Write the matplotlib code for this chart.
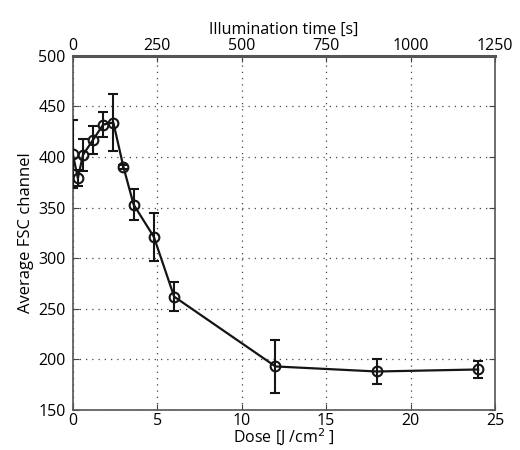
import matplotlib
matplotlib.use("Agg")
import matplotlib.pyplot as plt

dose = [0, 0.3, 0.6, 1.2, 1.8, 2.4, 3.0, 3.6, 4.8, 6.0, 12, 18, 24]
fsc = [403, 379, 402, 417, 432, 434, 390, 353, 321, 262, 193, 188, 190]
err = [34, 8, 16, 14, 12, 28, 2, 15, 24, 14, 26, 12, 8]

x_ticks = [0, 5, 10, 15, 20, 25]
y_ticks = [150, 200, 250, 300, 350, 400, 450, 500]
top_ticks = [0, 250, 500, 750, 1000, 1250]

plt.rcParams['font.family'] = ['Open Sans', 'DejaVu Sans']
fs = 11.5
lfs = 11.5

fig = plt.figure(figsize=(5.2, 4.5), dpi=100)
ax = fig.add_axes([0.140, 0.089, 0.812, 0.787])

ax.errorbar(dose, fsc, yerr=err, color='#151515', lw=1.6, marker='o',
            ms=7, mfc='none', mec='#151515', mew=1.5, capsize=3.5,
            elinewidth=1.5, capthick=1.5, zorder=3)

ax.set_xlim(0, 25)
ax.set_ylim(150, 500)
ax.set_xticks(x_ticks)
ax.set_yticks(y_ticks)
ax.grid(True, linestyle=(0, (1, 4)), color='#444444', lw=0.9)
ax.tick_params(direction='in', length=4, labelsize=fs, color='#444444',
               right=True)
ax.tick_params(axis='x', pad=2)
ax.tick_params(axis='y', pad=5)
for s in ax.spines.values():
    s.set_color('#555555')
    s.set_linewidth(1.2)
ax.spines['top'].set_linewidth(2.2)

ax.set_xlabel('Dose [J /cm$^2$ ]', fontsize=lfs, labelpad=-1)
ax.set_ylabel('Average FSC channel', fontsize=lfs + 0.5, labelpad=3)

sec = ax.secondary_xaxis('top', functions=(lambda d: d * 50, lambda t: t / 50))
sec.set_xticks(top_ticks)
sec.tick_params(direction='in', length=4, labelsize=fs, color='#444444', pad=1)
sec.set_xlabel('Illumination time [s]', fontsize=lfs, labelpad=3)

fig.savefig('out.png', dpi=100)
